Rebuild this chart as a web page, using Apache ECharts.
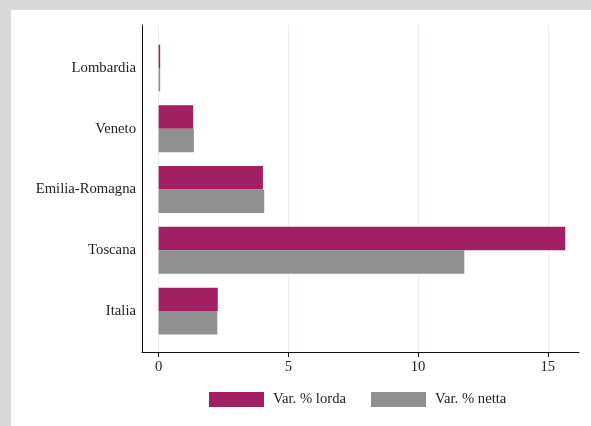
<!DOCTYPE html>
<html>
<head>
<meta charset="utf-8">
<script src="https://cdn.jsdelivr.net/npm/echarts@6/dist/echarts.min.js"></script>
<style>
html,body{margin:0;padding:0;background:#d9d9d9;width:591px;height:426px;overflow:hidden}
#panel{position:absolute;left:11px;top:10px;width:580px;height:416px;background:#fff}
#chart{width:580px;height:416px}
</style>
</head>
<body>
<div id="panel"><div id="chart"></div></div>
<script>
const categories = ['Lombardia', 'Veneto', 'Emilia-Romagna', 'Toscana', 'Italia'];
const lorda = [0.06, 1.33, 4.02, 15.67, 2.28];
const netta = [0.06, 1.36, 4.07, 11.78, 2.26];
const seriesNames = ['Var. % lorda', 'Var. % netta'];
const xTicks = [0, 5, 10, 15];
const xMin = -0.64, xMax = 16.2;

const font = 'Liberation Serif, Times New Roman, serif';
const chart = echarts.init(document.getElementById('chart'), null, {renderer: 'canvas'});
chart.setOption({
  animation: false,
  textStyle: {fontFamily: font},
  grid: [
    {left: 131, right: 12, top: 15, bottom: 74, containLabel: false},
    {left: 131, right: 12, top: 27.6, bottom: 84.6, containLabel: false}
  ],
  xAxis: [
    {
      gridIndex: 0, type: 'value', min: xMin, max: xMax,
      axisLine: {show: true, onZero: false, lineStyle: {color: '#111', width: 1}},
      axisTick: {show: true, length: 5, customValues: xTicks, lineStyle: {color: '#111'}},
      axisLabel: {show: true, customValues: xTicks, margin: 8, color: '#222', fontSize: 14.7, fontFamily: font},
      splitLine: {show: true, lineStyle: {color: '#e9efef', width: 1}}
    },
    {gridIndex: 1, type: 'value', min: xMin, max: xMax, show: false, splitLine: {show: false}}
  ],
  yAxis: [
    {
      gridIndex: 0, type: 'value', min: 0, max: 1,
      axisLine: {show: true, onZero: false, lineStyle: {color: '#111', width: 1}},
      axisTick: {show: false}, axisLabel: {show: false}, splitLine: {show: false}
    },
    {
      gridIndex: 1, type: 'category', data: categories, inverse: true,
      axisLine: {show: false}, axisTick: {show: false},
      axisLabel: {margin: 6, color: '#222', fontSize: 14.7, fontFamily: font},
      splitLine: {show: false}
    }
  ],
  legend: {
    left: 198, top: 382, padding: 0, itemGap: 25,
    itemWidth: 55, itemHeight: 15,
    icon: 'rect',
    textStyle: {color: '#222', fontSize: 14.7, fontFamily: font, padding: [0, 0, 0, 4]},
    data: seriesNames
  },
  series: [
    {name: seriesNames[0], type: 'bar', xAxisIndex: 1, yAxisIndex: 1, data: lorda,
     itemStyle: {color: '#a21f63'}, barGap: '0%', barCategoryGap: '23%'},
    {name: seriesNames[1], type: 'bar', xAxisIndex: 1, yAxisIndex: 1, data: netta,
     itemStyle: {color: '#8f8f8f'}, barGap: '0%', barCategoryGap: '23%'}
  ]
});
</script>
</body>
</html>
